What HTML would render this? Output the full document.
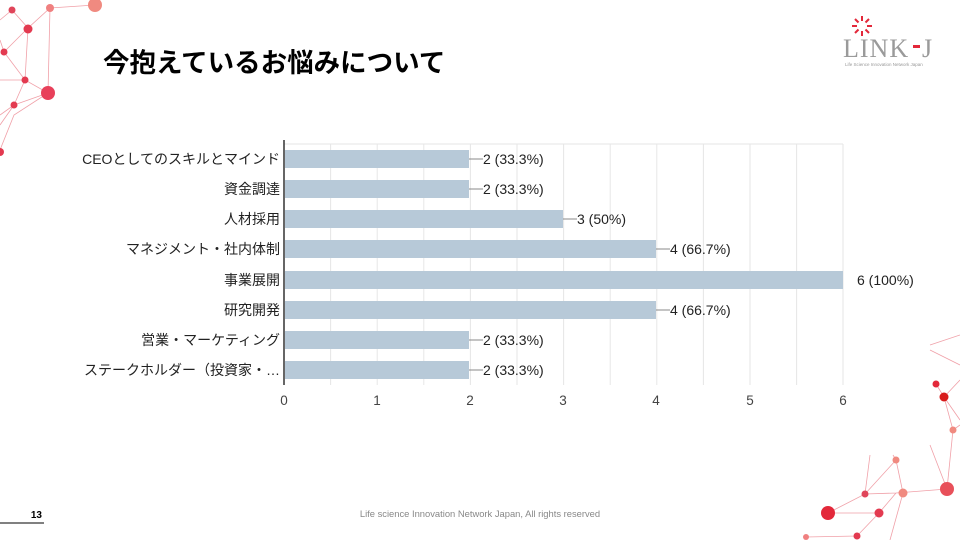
<!DOCTYPE html>
<html><head><meta charset="utf-8"><style>
body{margin:0;width:960px;height:540px;overflow:hidden;background:#fff;font-family:"Liberation Sans","Noto Sans CJK JP",sans-serif;}
</style></head><body>
<svg width="960" height="540" xmlns="http://www.w3.org/2000/svg" font-family="Liberation Sans, Noto Sans CJK JP, sans-serif">
<g stroke="#f0a0a8" stroke-width="0.8" fill="none">
<path d="M12 10 L28 28 L50 8 L95 5 M28 28 L4 52 L25 80 L48 93 L14 115 L0 150 M28 28 L25 80 M50 8 L48 93 M50 8 L28 28 M25 80 L0 80 M4 52 L0 40 M48 93 L14 105 L0 115 M14 105 L0 125 M12 10 L0 20 M25 80 L14 105"/>
</g>
<g>
<circle cx="12" cy="10" r="3.5" fill="#e0455a"/><circle cx="50" cy="8" r="4" fill="#f08080"/><circle cx="95" cy="5" r="7" fill="#f08a80"/>
<circle cx="28" cy="29" r="4.5" fill="#e33a50"/><circle cx="4" cy="52" r="3.5" fill="#e33a50"/><circle cx="25" cy="80" r="3.5" fill="#e33a50"/>
<circle cx="48" cy="93" r="7" fill="#e8405a"/><circle cx="14" cy="105" r="3.5" fill="#e33a50"/><circle cx="0" cy="152" r="4" fill="#e33a50"/>
</g>
<g stroke="#f0a0a8" stroke-width="0.8" fill="none">
<path d="M828 513 L865 494 L896 493 L947 489 M828 513 L879 513 L896 493 M865 494 L896 460 L903 493 L890 540 M879 513 L857 536 M806 537 L857 536 M896 460 L893 455 M944 397 L953 430 L947 489 L930 445 M936 384 L944 397 L960 380 M944 397 L960 420 M953 430 L960 425 M930 345 L960 335 M930 350 L960 365 M865 494 L870 455"/>
</g>
<g>
<circle cx="828" cy="513" r="7" fill="#e3283a"/><circle cx="865" cy="494" r="3.5" fill="#e0455a"/><circle cx="879" cy="513" r="4.5" fill="#e33a50"/>
<circle cx="896" cy="460" r="3.5" fill="#f08a80"/><circle cx="903" cy="493" r="4.5" fill="#f08a80"/><circle cx="947" cy="489" r="7" fill="#e8505a"/>
<circle cx="857" cy="536" r="3.5" fill="#e33a50"/><circle cx="806" cy="537" r="3" fill="#f08080"/>
<circle cx="936" cy="384" r="3.5" fill="#e3283a"/><circle cx="944" cy="397" r="4.5" fill="#d81a1a"/><circle cx="953" cy="430" r="3.5" fill="#f08a80"/>
</g>
<text x="103" y="72" font-size="26.5" fill="#000" font-family="Noto Sans CJK JP, sans-serif" font-weight="bold">今抱えているお悩みについて</text>
<g transform="translate(862,26)" stroke="#e3283a" stroke-width="2">
<line x1="0" y1="-5" x2="0" y2="-10"/><line x1="3.5" y1="-3.5" x2="7" y2="-7"/><line x1="5" y1="0" x2="10" y2="0"/><line x1="3.5" y1="3.5" x2="7" y2="7"/>
<line x1="0" y1="5" x2="0" y2="10"/><line x1="-3.5" y1="3.5" x2="-7" y2="7"/><line x1="-5" y1="0" x2="-10" y2="0"/><line x1="-3.5" y1="-3.5" x2="-7" y2="-7"/>
</g>
<text x="843" y="57" font-size="26" fill="#9a9a9a" font-family="Liberation Serif, serif" letter-spacing="1">LINK</text>
<rect x="913" y="45" width="7" height="3" fill="#e3283a"/>
<text x="922" y="57" font-size="26" fill="#9a9a9a" font-family="Liberation Serif, serif">J</text>
<text x="845" y="66" font-size="4.5" fill="#999">Life Science Innovation Network Japan</text>
<g stroke="#e6e6e6" stroke-width="1">
<line x1="284" y1="144" x2="843" y2="144"/>
<line x1="330.6" y1="144" x2="330.6" y2="385"/><line x1="377.2" y1="144" x2="377.2" y2="385"/><line x1="423.8" y1="144" x2="423.8" y2="385"/>
<line x1="470.4" y1="144" x2="470.4" y2="385"/><line x1="517" y1="144" x2="517" y2="385"/><line x1="563.6" y1="144" x2="563.6" y2="385"/>
<line x1="610.2" y1="144" x2="610.2" y2="385"/><line x1="656.8" y1="144" x2="656.8" y2="385"/><line x1="703.4" y1="144" x2="703.4" y2="385"/>
<line x1="750" y1="144" x2="750" y2="385"/><line x1="796.6" y1="144" x2="796.6" y2="385"/><line x1="843" y1="144" x2="843" y2="385"/>
</g>
<g fill="#b7c9d8">
<rect x="285" y="150" width="184" height="18"/>
<rect x="285" y="180" width="184" height="18"/>
<rect x="285" y="210" width="278" height="18"/>
<rect x="285" y="240" width="371" height="18"/>
<rect x="285" y="271" width="558" height="18"/>
<rect x="285" y="301" width="371" height="18"/>
<rect x="285" y="331" width="184" height="18"/>
<rect x="285" y="361" width="184" height="18"/>
</g>
<line x1="284" y1="140" x2="284" y2="385" stroke="#333" stroke-width="1.5"/>
<g stroke="#888" stroke-width="1">
<line x1="469" y1="159" x2="483" y2="159"/><line x1="469" y1="189" x2="483" y2="189"/><line x1="563" y1="219" x2="577" y2="219"/>
<line x1="656" y1="249" x2="670" y2="249"/><line x1="656" y1="310" x2="670" y2="310"/><line x1="469" y1="340" x2="483" y2="340"/><line x1="469" y1="370" x2="483" y2="370"/>
</g>
<g font-size="14" fill="#222">
<text x="483" y="164">2 (33.3%)</text><text x="483" y="194">2 (33.3%)</text><text x="577" y="224">3 (50%)</text>
<text x="670" y="254">4 (66.7%)</text><text x="857" y="285">6 (100%)</text><text x="670" y="315">4 (66.7%)</text>
<text x="483" y="345">2 (33.3%)</text><text x="483" y="375">2 (33.3%)</text>
</g>
<g font-size="14" fill="#222" text-anchor="end">
<text x="280" y="164">CEOとしてのスキルとマインド</text>
<text x="280" y="194">資金調達</text>
<text x="280" y="224">人材採用</text>
<text x="280" y="254">マネジメント・社内体制</text>
<text x="280" y="285">事業展開</text>
<text x="280" y="315">研究開発</text>
<text x="280" y="345">営業・マーケティング</text>
<text x="280" y="375">ステークホルダー（投資家・…</text>
</g>
<g font-size="13.5" fill="#444" text-anchor="middle">
<text x="284" y="405">0</text><text x="377" y="405">1</text><text x="470" y="405">2</text><text x="563" y="405">3</text>
<text x="656" y="405">4</text><text x="750" y="405">5</text><text x="843" y="405">6</text>
</g>
<text x="42" y="518" font-size="10" font-weight="bold" text-anchor="end" fill="#000">13</text>
<line x1="0" y1="523" x2="44" y2="523" stroke="#000" stroke-width="1"/>
<text x="480" y="517" font-size="9.4" fill="#888" text-anchor="middle">Life science Innovation Network Japan, All rights reserved</text>
</svg>
</body></html>
